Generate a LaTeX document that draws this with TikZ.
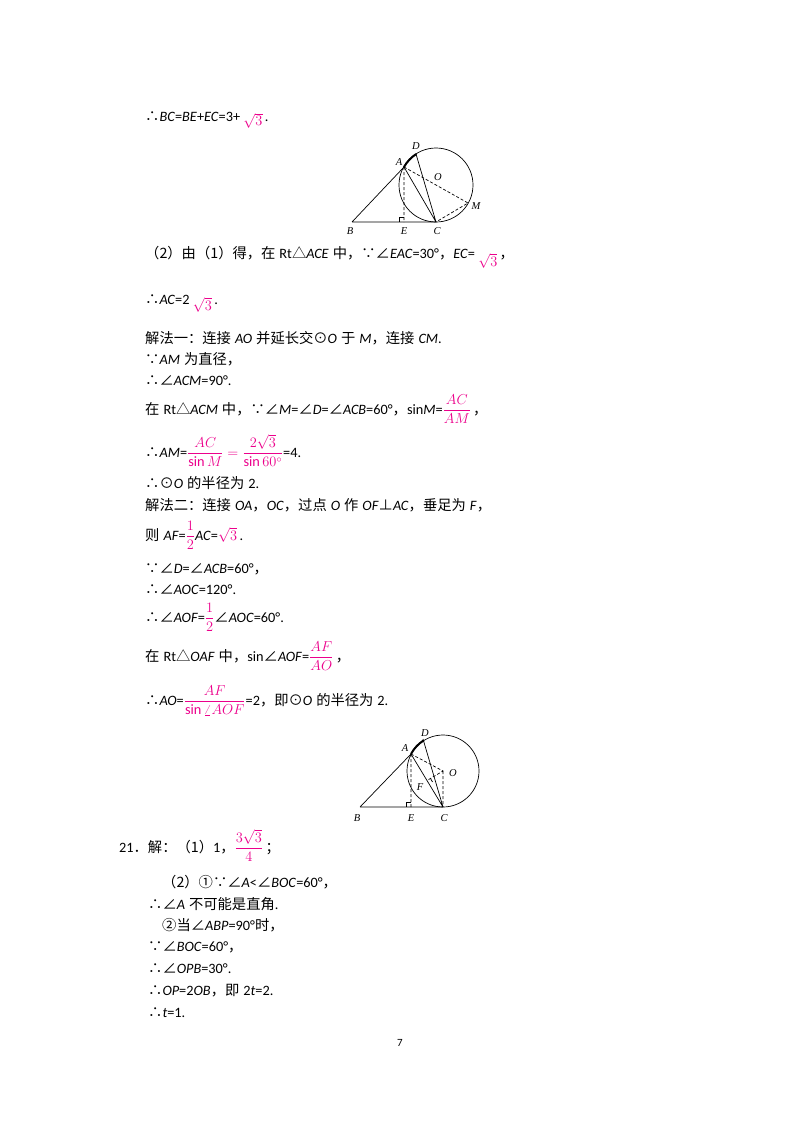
\documentclass[tikz,border=0pt]{standalone}
\usepackage{fontspec}
\usetikzlibrary{calc}
\setmainfont{Carlito}
\newfontfamily\cjk{Noto Sans CJK SC}
\newfontfamily\lbl{Liberation Serif}
\newcommand{\zh}[1]{{\cjk #1}}
\newcommand{\mg}[1]{{\color{magenta}$#1$}}
\newcommand{\dmg}[1]{{\color{magenta}$\displaystyle #1$}}
\newcommand{\I}[1]{\textit{#1}}
\newcommand{\gp}{\hspace{4pt}}
\begin{document}
\begin{tikzpicture}[x=1pt,y=-1pt,
  ln/.style={anchor=base west,inner sep=0pt,font=\fontsize{14.3}{16}\selectfont},
  lb/.style={inner sep=0pt,font=\lbl\itshape\fontsize{10.5}{11}\selectfont},
  dsh/.style={dashed,dash pattern=on 3pt off 2pt},
  fig/.style={line width=0.7pt}]
\useasboundingbox[fill=white] (0,0) rectangle (800,1132);
\node[ln] (l1) at (145,121) {\zh{∴}\I{BC}=\I{BE}+\I{EC}=3+ \raisebox{-5pt}{\mg{\sqrt{3}}}\,.};
% figure 1
\begin{scope}[fig]
\coordinate (B) at (352,222); \coordinate (E) at (404,222); \coordinate (C) at (436,222);
\coordinate (A) at (404,167); \coordinate (D) at (416,154); \coordinate (O) at (436,185);
\coordinate (M) at (468,203);
\draw (O) circle (37);
\draw (B)--(C) (B)--(A)--(C) (D)--(C);
\draw[dsh] (A)--(M)--(C) (A)--(E);
\draw (E)++(0,-5)--++(-5,0)--++(0,5);
\draw[line width=2pt] (A) arc[start angle=209.4,end angle=237.2,radius=37];
\node[lb] (tA) at (399,162) {A}; \node[lb] (tD) at (416,146) {D};
\node[lb] (tO) at (438,177) {O}; \node[lb] (tM) at (476,206) {M};
\node[lb] (tB) at (350,231) {B}; \node[lb] (tE) at (404,231) {E}; \node[lb] (tC) at (437,231) {C};
\end{scope}
\node[ln] (l2) at (145,258) {\zh{（2）由（1）得，在}\gp Rt\zh{△}\I{ACE}\gp\zh{中，∵∠}\I{EAC}=30°\zh{，}\I{EC}= \raisebox{-8pt}{\mg{\sqrt{3}}}\,\zh{，}};
\node[ln] (l3) at (145,304) {\zh{∴}\I{AC}=2 \raisebox{-6pt}{\mg{\sqrt{3}}}\,.};
\node[ln] (l4) at (145,343) {\zh{解法一：连接}\gp\I{AO}\gp\zh{并延长交⊙}\I{O}\gp\zh{于}\gp\I{M}\zh{，连接}\gp\I{CM}.};
\node[ln] (l5) at (145,364) {\zh{∵}\I{AM}\gp\zh{为直径，}};
\node[ln] (l6) at (145,385) {\zh{∴∠}\I{ACM}=90°.};
\node[ln] (l7) at (145,414) {\zh{在}\gp Rt\zh{△}\I{ACM}\gp\zh{中，∵∠}\I{M}=\zh{∠}\I{D}=\zh{∠}\I{ACB}=60°\zh{，}sin\I{M}=\dmg{\frac{AC}{AM}}\,\zh{，}};
\node[ln] (l8) at (145,457) {\zh{∴}\I{AM}=\dmg{\frac{AC}{\sin M}=\frac{2\sqrt3}{\sin 60^\circ}}=4.};
\node[ln] (l9) at (145,488) {\zh{∴⊙}\I{O}\gp\zh{的半径为}\gp 2.};
\node[ln] (l10) at (145,510) {\zh{解法二：连接}\gp\I{OA}\zh{，}\I{OC}\zh{，过点}\gp\I{O}\gp\zh{作}\gp\I{OF}\zh{⊥}\I{AC}\zh{，垂足为}\gp\I{F}\zh{，}};
\node[ln] (l11) at (145,540) {\zh{则}\gp\I{AF}=\dmg{\frac12}\I{AC}=\mg{\sqrt3}\,.};
\node[ln] (l12) at (145,573) {\zh{∵∠}\I{D}=\zh{∠}\I{ACB}=60°\zh{，}};
\node[ln] (l13) at (145,594) {\zh{∴∠}\I{AOC}=120°.};
\node[ln] (l14) at (145,622) {\zh{∴∠}\I{AOF}=\dmg{\frac12}\zh{∠}\I{AOC}=60°.};
\node[ln] (l15) at (145,661) {\zh{在}\gp Rt\zh{△}\I{OAF}\gp\zh{中，}sin\zh{∠}\I{AOF}=\dmg{\frac{AF}{AO}}\,\zh{，}};
\node[ln] (l16) at (145,705) {\zh{∴}\I{AO}=\dmg{\frac{\quad AF\quad}{\sin\angle AOF}}=2\zh{，即⊙}\I{O}\gp\zh{的半径为}\gp 2.};
% figure 2
\begin{scope}[fig]
\coordinate (B2) at (360,807); \coordinate (E2) at (411,807); \coordinate (C2) at (443,807);
\coordinate (A2) at (411,754); \coordinate (D2) at (423,739); \coordinate (O2) at (443,771);
\coordinate (F2) at (427,780.5);
\draw (O2) circle (36);
\draw (B2)--(C2) (B2)--(A2)--(C2) (D2)--(C2);
\draw[dsh] (A2)--(E2) (A2)--(O2)--(F2) (O2)--(C2);
\draw (E2)++(0,-5)--++(-5,0)--++(0,5);
\draw ($(F2)!4pt!(O2)$) -- ($(F2)!4pt!(O2)!4pt!90:(F2)$);
\draw[line width=2pt] (A2) arc[start angle=208,end angle=238,radius=36];
\node[lb] (sA) at (405,748) {A}; \node[lb] (sD) at (425,733) {D};
\node[lb] (sO) at (453,773) {O}; \node[lb] (sF) at (420,787) {F};
\node[lb] (sB) at (357,818) {B}; \node[lb] (sE) at (411,818) {E}; \node[lb] (sC) at (444,818) {C};
\end{scope}
\node[ln] (l17) at (119,852) {21\zh{．解：（1）}1\zh{，}\dmg{\frac{3\sqrt3}{4}}\,\zh{；}};
\node[ln] (l18) at (162,887) {\zh{（2）①∵∠}\I{A}<\zh{∠}\I{BOC}=60°\zh{，}};
\node[ln] (l19) at (148,909) {\zh{∴∠}\I{A}\gp\zh{不可能是直角}.};
\node[ln] (l20) at (162,930) {\zh{②当∠}\I{ABP}=90°\zh{时，}};
\node[ln] (l21) at (148,951) {\zh{∵∠}\I{BOC}=60°\zh{，}};
\node[ln] (l22) at (148,973) {\zh{∴∠}\I{OPB}=30°.};
\node[ln] (l23) at (148,995) {\zh{∴}\I{OP}=2\I{OB}\zh{，即}\gp 2\I{t}=2.};
\node[ln] (l24) at (148,1017) {\zh{∴}\I{t}=1.};
\node[inner sep=0pt,font=\fontsize{11}{12}\selectfont] (pg) at (400,1043) {7};
\end{tikzpicture}
\end{document}
